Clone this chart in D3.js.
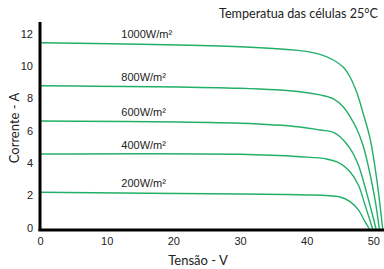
<!DOCTYPE html>
<html>
<head>
<meta charset="utf-8">
<script src="https://cdn.jsdelivr.net/npm/d3@7"></script>
<style>
	body { margin: 0; background: #fff; }
	text { font-family: "Liberation Sans", Arial, sans-serif; fill: #222; }
	.title { font-family: Lato, "Open Sans", sans-serif; }
</style>
</head>
<body>
<div id="canvas"></div>
<script>

// irradiance curves, tensão (V) / corrente (A)
var labels = ["1000W/m²", "800W/m²", "600W/m²", "400W/m²", "200W/m²"]

var volts1000 = [0, 30, 39, 42, 44, 45.5, 46.5, 47.5, 48.5, 49.5, 50.5, 51.4]
var amps1000 = [11.52, 11.27, 11.03, 10.8, 10.45, 10.0, 9.4, 8.45, 7.1, 5.6, 3.1, 0]

var volts800 = [0, 30, 39, 42, 44, 45.5, 46.5, 47.5, 48.5, 49.5, 50.3, 50.9]
var amps800 = [8.86, 8.7, 8.49, 8.29, 8.05, 7.55, 6.95, 6.2, 5.1, 3.4, 1.7, 0]

var volts600 = [0, 30, 39, 42, 44, 45, 46.5, 47.75, 48.75, 49.6, 50.4]
var amps600 = [6.68, 6.54, 6.31, 6.12, 5.98, 5.71, 4.99, 3.96, 2.6, 1.3, 0]

var volts400 = [0, 30, 39, 43, 45, 46.5, 47.75, 48.75, 49.9]
var amps400 = [4.64, 4.62, 4.47, 4.33, 4.06, 3.54, 2.72, 1.48, 0]

var volts200 = [0, 30, 39, 45, 46.5, 47.75, 48.75, 49.4]
var amps200 = [2.27, 2.16, 2.12, 1.98, 1.69, 1.18, 0.45, 0]

var xTicks = [0, 10, 20, 30, 40, 50]
var yTicks = [0, 2, 4, 6, 8, 10, 12]

var width = 384, height = 269

function pairs(vs, is) {
	var out = []
	for (var i = 0; i < vs.length; i++) {
		out.push({ v: vs[i], a: is[i] })
	}
	return out
}

var curves = [
	pairs(volts1000, amps1000),
	pairs(volts800, amps800),
	pairs(volts600, amps600),
	pairs(volts400, amps400),
	pairs(volts200, amps200)
]

function drawChart() {
	var svg = d3.select('#canvas').append("svg")
		.attr("width", width)
		.attr("height", height)

	var x = d3.scaleLinear().domain([0, 52]).range([40, 386.7])
	var y = d3.scaleLinear().domain([0, 12.8]).range([229, 22])

	var line = d3.line()
		.x(function (d) { return x(d.v); })
		.y(function (d) { return y(d.a); })
		.curve(d3.curveCatmullRom.alpha(0.5))

	svg.selectAll(".iv")
		.data(curves)
		.enter().append("path")
			.attr("class", "iv")
			.attr("d", line)
			.attr("fill", "none")
			.attr("stroke", "#22b068")
			.attr("stroke-width", 1.4)

	svg.selectAll(".lbl")
		.data(curves)
		.enter().append("text")
			.attr("class", "lbl")
			.attr("x", x(12.2))
			.attr("y", function (d) { return y(d[0].a) - 5; })
			.attr("font-size", 11)
			.text(function (d, i) { return labels[i]; })

	// axes
	var xAxis = d3.axisBottom(x).tickValues(xTicks).tickSize(0).tickPadding(7)
	var gx = svg.append("g").attr("transform", "translate(0," + 230 + ")").call(xAxis)
	gx.select(".domain").remove()
	gx.selectAll("text").attr("font-size", 11).style("font-family", "Liberation Sans, Arial, sans-serif").attr("fill", "#222")

	var yAxis = d3.axisLeft(y).tickValues(yTicks).tickSize(0).tickPadding(7)
	var gy = svg.append("g").attr("transform", "translate(" + 40 + ",0)").call(yAxis)
	gy.select(".domain").remove()
	gy.selectAll("text").attr("font-size", 11).attr("dy", "0.2em").style("font-family", "Liberation Sans, Arial, sans-serif").attr("fill", "#222")

	svg.append("line")
		.attr("x1", 38.5).attr("x2", width)
		.attr("y1", 230).attr("y2", 230)
		.attr("stroke", "#000").attr("stroke-width", 3)

	svg.append("line")
		.attr("x1", 40).attr("x2", 40)
		.attr("y1", 22).attr("y2", 231)
		.attr("stroke", "#000").attr("stroke-width", 3)

	svg.append("text")
		.attr("class", "title")
		.attr("x", 198).attr("y", 265)
		.attr("text-anchor", "middle")
		.attr("font-size", 13)
		.text("Tensão - V")

	svg.append("text")
		.attr("class", "title")
		.attr("transform", "translate(19,128) rotate(-90)")
		.attr("text-anchor", "middle")
		.attr("font-size", 13)
		.text("Corrente - A")

	svg.append("text")
		.attr("class", "title")
		.attr("x", 378).attr("y", 18)
		.attr("text-anchor", "end")
		.attr("font-size", 12.6)
		.text("Temperatua das células 25°C")
}

drawChart()

</script>
</body>
</html>
